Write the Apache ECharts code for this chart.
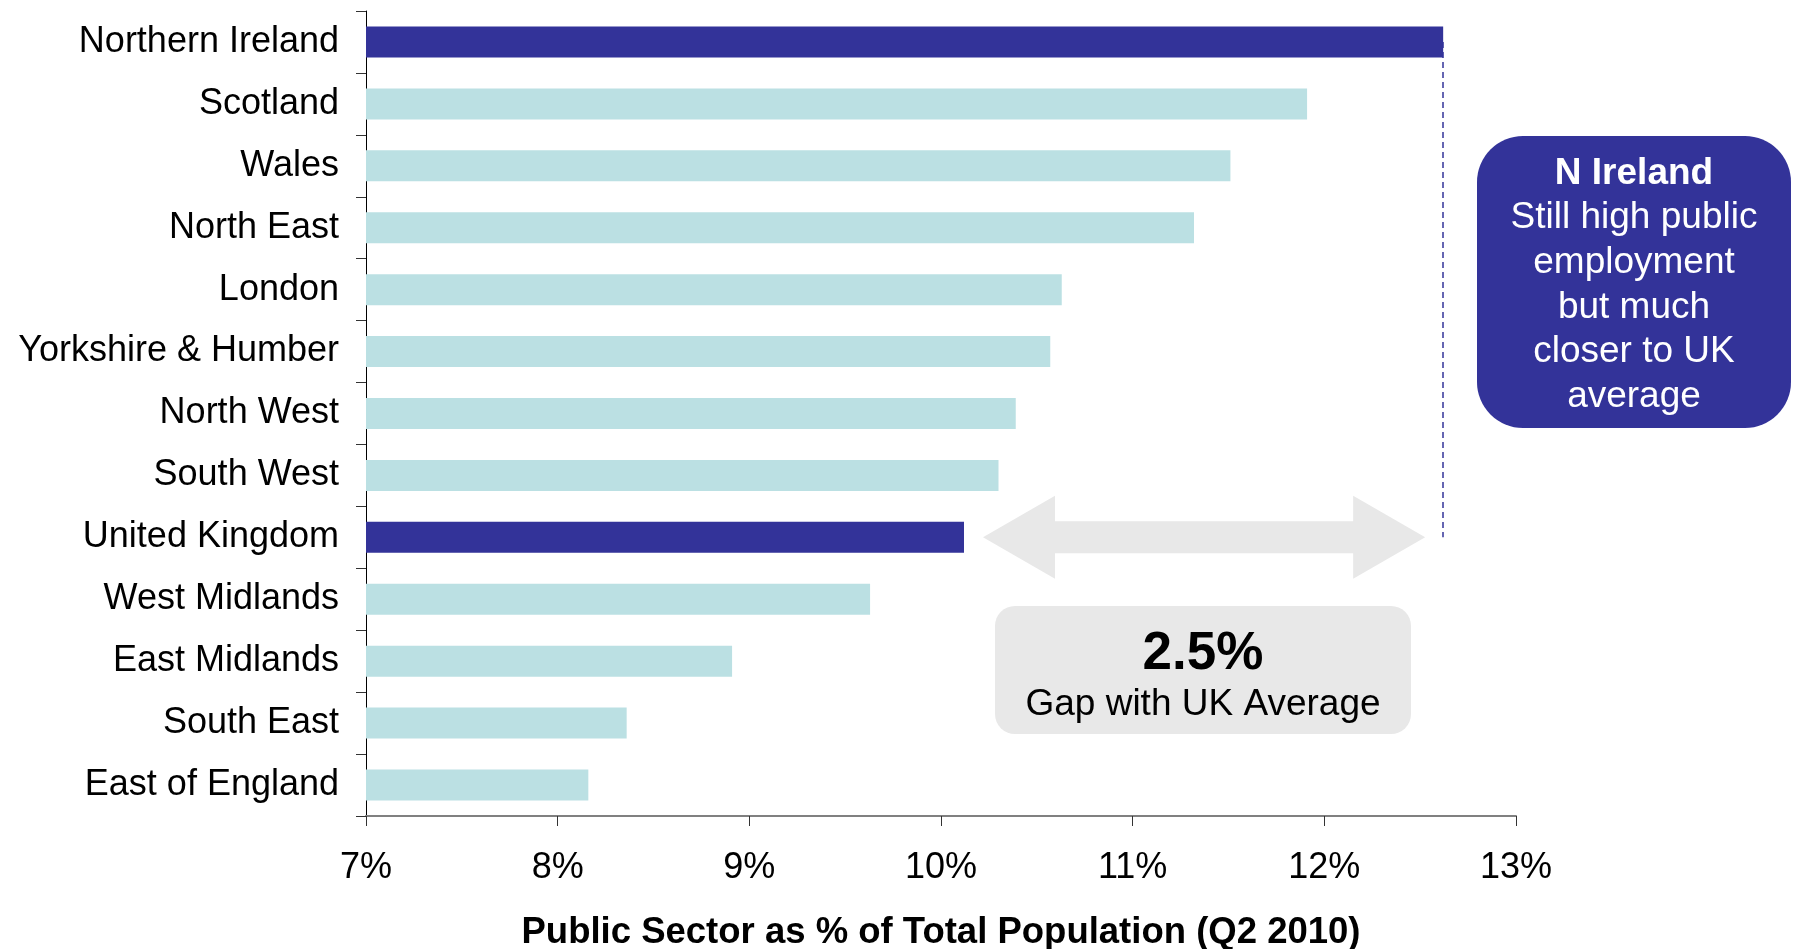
<!DOCTYPE html>
<html>
<head>
<meta charset="utf-8">
<script src="https://cdn.jsdelivr.net/npm/echarts@6/dist/echarts.min.js"></script>
<style>
html,body{margin:0;padding:0;background:#fff;}
#chart{width:1793px;height:949px;}
</style>
</head>
<body>
<div id="chart"></div>
<script>
// ---- data ----
const categories = ['Northern Ireland','Scotland','Wales','North East','London','Yorkshire & Humber','North West','South West','United Kingdom','West Midlands','East Midlands','South East','East of England'];
const values = [12.62, 11.91, 11.51, 11.32, 10.63, 10.57, 10.39, 10.30, 10.12, 9.63, 8.91, 8.36, 8.16];
const highlighted = ['Northern Ireland', 'United Kingdom'];
const xMin = 7, xMax = 13, xStep = 1;
const axisTitle = 'Public Sector as % of Total Population (Q2 2010)';
const gapValue = '2.5%';
const gapText = 'Gap with UK Average';
const noteTitle = 'N Ireland';
const noteLines = ['Still high public', 'employment', 'but much', 'closer to UK', 'average'];

// ---- styles ----
const FONT = "'Liberation Sans', Arial, sans-serif";
const DARK = '#333399';
const LIGHT = '#BBE0E3';
const GREY = '#E8E8E8';

const niIdx = categories.indexOf('Northern Ireland');
const ukIdx = categories.indexOf('United Kingdom');

const chart = echarts.init(document.getElementById('chart'), null, {renderer: 'canvas'});

const option = {
  animation: false,
  backgroundColor: '#ffffff',
  grid: {left: 366, right: 277, top: 11, bottom: 133, containLabel: false, outerBoundsMode: 'none'},
  xAxis: {
    type: 'value', min: xMin, max: xMax, interval: xStep,
    axisLine: {show: true, lineStyle: {color: '#808080', width: 2}},
    axisTick: {show: true, length: 10, lineStyle: {color: '#333', width: 1}},
    splitLine: {show: false},
    axisLabel: {formatter: '{value}%', fontFamily: FONT, fontSize: 36, color: '#000', margin: 34},
    name: axisTitle, nameLocation: 'middle', nameGap: 98,
    nameTextStyle: {fontFamily: FONT, fontSize: 36.5, fontWeight: 'bold', color: '#000'}
  },
  yAxis: {
    type: 'category', data: categories, inverse: true,
    axisLine: {show: true, lineStyle: {color: '#000', width: 1}},
    axisTick: {show: true, length: 10, lineStyle: {color: '#333'}},
    axisLabel: {fontFamily: FONT, fontSize: 36, color: '#000', margin: 27, padding: [6, 0, 0, 0]},
    splitLine: {show: false}
  },
  series: [
    {
      type: 'bar',
      barWidth: 31,
      data: values.map((v, i) => ({
        value: v,
        itemStyle: {color: highlighted.includes(categories[i]) ? DARK : LIGHT}
      })),
      markLine: {
        silent: true,
        symbol: 'none',
        label: {show: false},
        lineStyle: {color: DARK, type: [6, 4], width: 1.5},
        data: [[
          {coord: [values[niIdx], categories[niIdx]]},
          {coord: [values[niIdx], categories[ukIdx]]}
        ]]
      }
    },
    {
      type: 'custom',
      silent: true,
      encode: {x: [0, 1], y: 2},
      data: [[values[ukIdx], values[niIdx], ukIdx]],
      renderItem: function (params, api) {
        const a = api.coord([api.value(0), api.value(2)]);
        const b = api.coord([api.value(1), api.value(2)]);
        const x0 = a[0] + 19, x1 = b[0] - 18, y = a[1];
        const hl = 72, sh = 16, hh = 41.5;
        return {
          type: 'polygon',
          shape: {points: [
            [x0, y], [x0 + hl, y - hh], [x0 + hl, y - sh], [x1 - hl, y - sh], [x1 - hl, y - hh],
            [x1, y], [x1 - hl, y + hh], [x1 - hl, y + sh], [x0 + hl, y + sh], [x0 + hl, y + hh]
          ]},
          style: {fill: GREY}
        };
      }
    }
  ],
  graphic: [
    {
      type: 'rect', left: 995, top: 606,
      shape: {width: 416, height: 128, r: 20},
      style: {fill: GREY}
    },
    {
      type: 'text', x: 1203, y: 654,
      style: {text: gapValue, fontFamily: FONT, fontSize: 53, fontWeight: 'bold', fill: '#000', align: 'center', verticalAlign: 'middle'}
    },
    {
      type: 'text', x: 1203, y: 705,
      style: {text: gapText, fontFamily: FONT, fontSize: 37, fill: '#000', align: 'center', verticalAlign: 'middle'}
    },
    {
      type: 'rect', left: 1477, top: 136,
      shape: {width: 314, height: 292, r: 46},
      style: {fill: DARK}
    },
    {
      type: 'text', x: 1634, y: 285,
      style: {
        text: '{b|' + noteTitle + '}\n' + noteLines.map(l => '{n|' + l + '}').join('\n'),
        align: 'center', verticalAlign: 'middle',
        rich: {
          b: {fontFamily: FONT, fontSize: 37, fontWeight: 'bold', fill: '#fff', color: '#fff', lineHeight: 44.6, align: 'center'},
          n: {fontFamily: FONT, fontSize: 37, fill: '#fff', color: '#fff', lineHeight: 44.6, align: 'center'}
        }
      }
    }
  ]
};

chart.setOption(option);
</script>
</body>
</html>
